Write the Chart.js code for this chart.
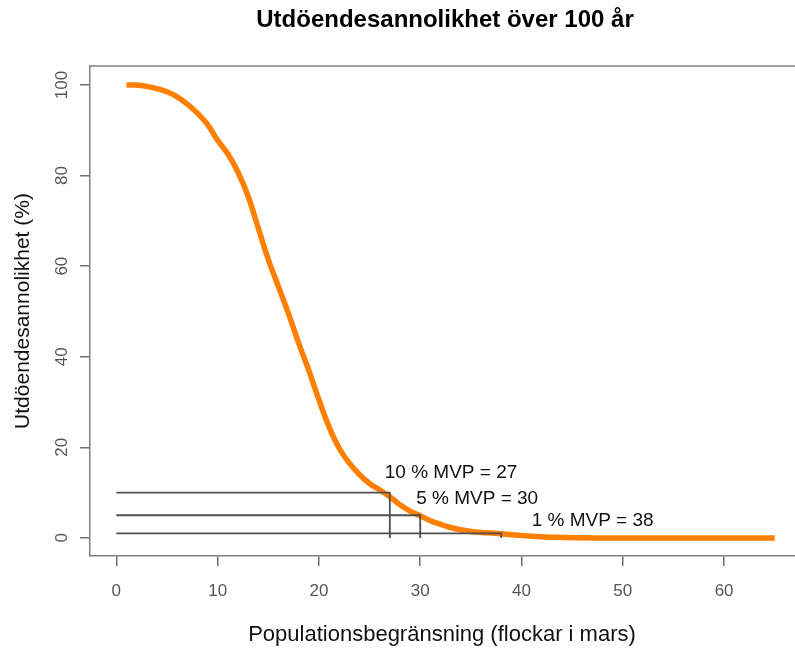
<!DOCTYPE html>
<html>
<head>
<meta charset="utf-8">
<script src="https://cdn.jsdelivr.net/npm/chart.js@4/dist/chart.umd.min.js"></script>
<style>
  html, body { margin: 0; padding: 0; background: #fff; }
  #wrap { width: 795px; height: 651px; }
</style>
</head>
<body>
<div id="wrap"><canvas id="myChart" width="795" height="651"></canvas></div>
<script>
// population ceiling (flocks) and extinction probability within 100 years (%)
const flockar = [1, 2, 3, 4, 5, 6, 7, 8, 9, 10, 11, 12, 13, 14, 15, 16, 17, 18, 19, 20,
  21, 22, 23, 24, 25, 26, 27, 28, 29, 30, 31, 32, 33, 34, 35, 36, 37, 38, 39, 40,
  41, 42, 43, 44, 45, 46, 47, 48, 49, 50, 51, 52, 53, 54, 55, 56, 57, 58, 59, 60,
  61, 62, 63, 64, 65];
const utdoende = [100, 100, 99.7, 99.2, 98.5, 97.4, 95.8, 93.8, 91.3, 87.8, 84.8, 80.8, 75.5, 68.5, 61.5, 55.5, 49.5, 43, 37, 30.5,
  24.5, 19.8, 16.5, 14, 12, 10.6, 9.1, 7.3, 5.9, 4.9, 3.8, 3, 2.3, 1.8, 1.4, 1.2, 1.1, 0.9, 0.7, 0.5,
  0.35, 0.25, 0.15, 0.1, 0.05, 0.05, 0, 0, 0, 0, 0, 0, 0, 0, 0, 0, 0, 0, 0, 0,
  0, 0, 0, 0, 0];

// minimum viable population for 10 %, 5 % and 1 % risk
const mvpRisk = [10, 5, 1];
const mvpVarde = [27, 30, 38];
const mvpText = ['10 % MVP = 27', '5 % MVP = 30', '1 % MVP = 38'];
// where each label starts (x) and sits (y) in data units
const mvpTextX = [26.5, 29.6, 41.0];
const mvpTextY = [14.3, 8.6, 3.7];

const xTicks = [0, 10, 20, 30, 40, 50, 60];
const yTicks = [0, 20, 40, 60, 80, 100];

const grey = '#6e6e6e';
const font = "'Liberation Sans', Arial, sans-serif";
const tickFont = "'Liberation Sans Narrow', 'Arial Narrow', 'Liberation Sans', sans-serif";

const kurva = flockar.map((f, i) => ({ x: f, y: utdoende[i] }));

const mvpSets = mvpRisk.map((r, i) => ({
  data: [{ x: 0, y: r }, { x: mvpVarde[i], y: r }, { x: mvpVarde[i], y: 0 }],
  showLine: true,
  borderColor: '#505050',
  borderWidth: 1.8,
  pointRadius: 0,
  tension: 0,
  order: 0
}));

// box, rotated y labels, titles and MVP labels
const textPlugin = {
  id: 'texter',
  afterDraw(chart) {
    const ctx = chart.ctx;
    const a = chart.chartArea;
    const xs = chart.scales.x, ys = chart.scales.y;
    ctx.save();

    ctx.strokeStyle = '#808080';
    ctx.lineWidth = 1.5;
    ctx.beginPath();
    ctx.moveTo(a.right + 1, a.top);
    ctx.lineTo(a.left, a.top);
    ctx.stroke();

    ctx.fillStyle = '#555';
    ctx.font = '17px ' + tickFont;
    ctx.textAlign = 'center';
    ctx.textBaseline = 'middle';
    yTicks.forEach(v => {
      ctx.save();
      ctx.translate(62, ys.getPixelForValue(v));
      ctx.rotate(-Math.PI / 2);
      ctx.fillText(String(v), 0, 0);
      ctx.restore();
    });

    ctx.fillStyle = '#000';
    ctx.font = 'bold 24px ' + font;
    ctx.fillText('Utdöendesannolikhet över 100 år', 445, 20);

    ctx.fillStyle = '#111';
    ctx.font = '22px ' + font;
    ctx.fillText('Populationsbegränsning (flockar i mars)', 442, 635);
    ctx.font = '21px ' + font;
    ctx.save();
    ctx.translate(23, (a.top + a.bottom) / 2);
    ctx.rotate(-Math.PI / 2);
    ctx.fillText('Utdöendesannolikhet (%)', 0, 0);
    ctx.restore();

    ctx.font = '19px ' + font;
    ctx.textAlign = 'left';
    mvpText.forEach((t, i) => {
      ctx.fillText(t, xs.getPixelForValue(mvpTextX[i]), ys.getPixelForValue(mvpTextY[i]));
    });
    ctx.restore();
  }
};

new Chart(document.getElementById('myChart'), {
  type: 'scatter',
  data: {
    datasets: [
      ...mvpSets,
      {
        data: kurva,
        showLine: true,
        borderColor: '#ff7f00',
        borderWidth: 5.5,
        pointRadius: 0,
        tension: 0.4,
        order: 1
      }
    ]
  },
  options: {
    responsive: false,
    animation: false,
    layout: { padding: { top: 66, left: 0, right: 0, bottom: 0 } },
    plugins: {
      legend: { display: false },
      title: { display: false },
      tooltip: { enabled: false }
    },
    scales: {
      x: {
        type: 'linear',
        min: -2.6,
        max: 67.0,
        afterFit: s => { s.height = 95; },
        afterBuildTicks: s => { s.ticks = xTicks.map(v => ({ value: v })); },
        grid: { drawOnChartArea: false, tickLength: 10, color: grey, lineWidth: 1.5 },
        border: { color: '#808080', width: 1.5 },
        ticks: { color: '#555', padding: 15, maxRotation: 0, font: { family: tickFont, size: 17 } }
      },
      y: {
        type: 'linear',
        min: -4,
        max: 104.2,
        afterFit: s => { s.width = 90; },
        afterBuildTicks: s => { s.ticks = yTicks.map(v => ({ value: v })); },
        grid: { drawOnChartArea: false, tickLength: 10, color: grey, lineWidth: 1.5 },
        border: { color: '#808080', width: 1.5 },
        ticks: { color: 'rgba(0,0,0,0)', font: { family: tickFont, size: 13 } }
      }
    }
  },
  plugins: [textPlugin]
});
</script>
</body>
</html>
